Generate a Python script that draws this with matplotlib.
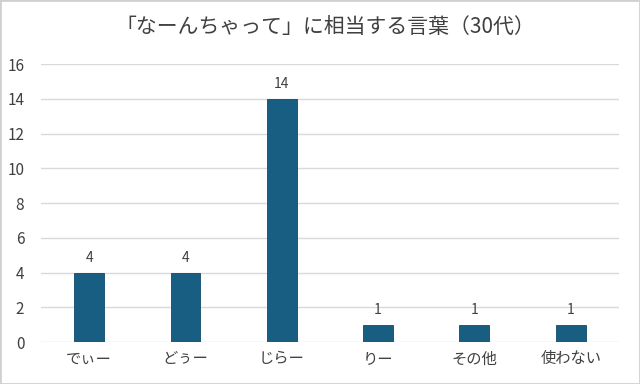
import matplotlib.pyplot as plt
from matplotlib.patches import Rectangle

plt.rcParams['font.family'] = ['Noto Sans CJK JP', 'DejaVu Sans']

categories = ["でぃー", "どぅー", "じらー", "りー", "その他", "使わない"]
counts = [4, 4, 14, 1, 1, 1]
yticks = [0, 2, 4, 6, 8, 10, 12, 14, 16]

bar_color = "#175E82"
text_color = "#404040"
grid_color = "#d9d9d9"

fig = plt.figure(figsize=(6.4, 3.84), dpi=100)
ax = fig.add_axes([0.064, 0.109, 0.903, 0.724])

x = list(range(len(categories)))
ax.bar(x, counts, width=0.31, color=bar_color, edgecolor="#0f4a68", linewidth=0.6, zorder=3)

for i, v in enumerate(counts):
    ax.text(i, v + 0.45, str(v), ha='center', va='bottom', fontsize=10, color=text_color)

ax.set_xlim(-0.5, len(categories) - 0.5)
ax.set_ylim(0, 16)
ax.set_yticks(yticks)
ax.set_xticks(x)
ax.set_xticklabels(categories, fontsize=11, color=text_color)
ax.tick_params(axis='y', labelsize=11, labelcolor=text_color, length=0, pad=12)
ax.tick_params(axis='x', length=0, pad=6)
ax.grid(axis='y', color=grid_color, linewidth=1, zorder=0)
for s in ax.spines.values():
    s.set_visible(False)

fig.text(0.508, 0.93, "「なーんちゃって」に相当する言葉（30代）", ha='center', va='center',
         fontsize=15, color=text_color)

fig.patches.append(Rectangle((0, 0), 1, 1, transform=fig.transFigure, fill=False,
                             edgecolor="#d0d0d0", linewidth=2))

plt.savefig("out.png", dpi=100)
